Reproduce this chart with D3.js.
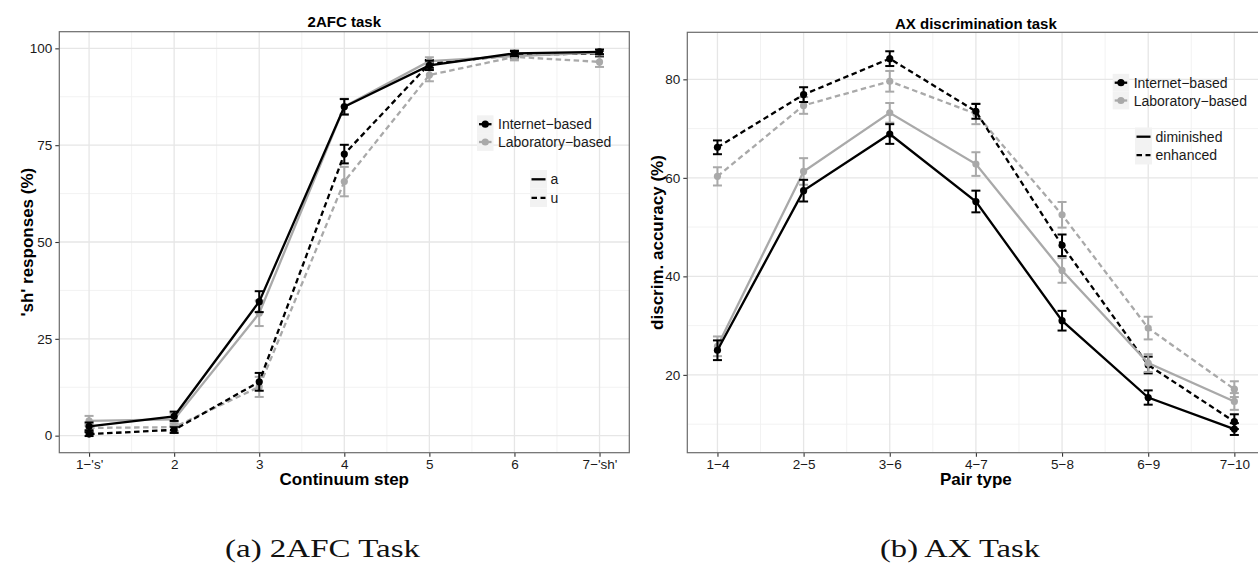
<!DOCTYPE html>
<html>
<head>
<meta charset="utf-8">
<script src="https://cdn.jsdelivr.net/npm/d3@7"></script>
<style>
  body { margin: 0; background: #fff; }
  text { font-family: "Liberation Sans", Arial, sans-serif; }
</style>
</head>
<body>
<script>
// ---- data: 2AFC task ----
const stepLabels = ["1−'s'", "2", "3", "4", "5", "6", "7−'sh'"];
const afcTicks = [0, 25, 50, 75, 100];
const afcInternetA    = [2.4, 5.0, 34.6, 84.9, 95.6, 98.7, 99.1];
const afcInternetAErr = [1.0, 1.2, 2.7, 2.0, 1.2, 0.7, 0.6];
const afcLabA         = [3.8, 4.2, 31.6, 85.0, 96.7, 98.0, 98.9];
const afcLabAErr      = [1.3, 1.5, 3.3, 2.0, 1.0, 0.8, 0.7];
const afcInternetU    = [0.4, 1.5, 13.9, 72.7, 96.0, 98.3, 98.7];
const afcInternetUErr = [0.5, 0.8, 2.3, 2.4, 1.0, 0.8, 0.7];
const afcLabU         = [2.0, 2.2, 12.6, 65.6, 93.1, 97.8, 96.5];
const afcLabUErr      = [0.9, 1.0, 2.6, 3.8, 1.6, 0.9, 1.3];

// ---- data: AX task ----
const pairLabels = ["1−4", "2−5", "3−6", "4−7", "5−8", "6−9", "7−10"];
const axTicks = [20, 40, 60, 80];
const axInternetDim    = [25.0, 57.4, 68.9, 55.2, 31.0, 15.4, 9.0];
const axInternetDimErr = [2.0, 2.2, 2.0, 2.2, 2.0, 1.45, 1.2];
const axLabDim         = [25.8, 61.3, 73.2, 62.8, 41.2, 22.4, 14.6];
const axLabDimErr      = [2.0, 2.7, 2.0, 2.4, 2.5, 1.8, 1.7];
const axInternetEnh    = [66.2, 76.9, 84.2, 73.5, 46.3, 22.0, 10.5];
const axInternetEnhErr = [1.4, 1.5, 1.5, 1.5, 2.2, 1.7, 1.5];
const axLabEnh         = [60.3, 74.7, 79.6, 73.0, 52.5, 29.5, 17.1];
const axLabEnhErr      = [1.85, 1.7, 2.1, 2.1, 2.6, 2.3, 1.6];

const groupNames = ["Internet−based", "Laboratory−based"];

const BLACK = "#000000";
const GREY = "#a9a9a9";
const DASH = "5.5,3.5";

const svg = d3.select("body").append("svg")
  .attr("width", 1258)
  .attr("height", 567);

function drawPanel(p) {
  const x = d3.scalePoint().domain(p.labels).range([p.left, p.right]).padding(0.35);
  const y = d3.scaleLinear().domain(p.yDomain).range([p.bottom, p.top]);
  const g = svg.append("g");

  // clip so the right panel is cut at the page edge like the original
  const step = x.step();

  // minor grid
  const minorY = p.ticks.slice(0, -1).map((t, i) => (t + p.ticks[i + 1]) / 2);
  minorY.unshift(p.ticks[0] - (p.ticks[1] - p.ticks[0]) / 2);
  g.selectAll(".minY").data(minorY.filter(v => y(v) < p.bottom && y(v) > p.top))
    .enter().append("line")
    .attr("x1", p.left).attr("x2", p.right)
    .attr("y1", d => y(d)).attr("y2", d => y(d))
    .attr("stroke", "#f0f0f0").attr("stroke-width", 0.9);
  g.selectAll(".minX").data(p.labels.slice(1))
    .enter().append("line")
    .attr("x1", d => x(d) - step / 2).attr("x2", d => x(d) - step / 2)
    .attr("y1", p.top).attr("y2", p.bottom)
    .attr("stroke", "#f0f0f0").attr("stroke-width", 0.9);

  // major grid
  g.selectAll(".majY").data(p.ticks)
    .enter().append("line")
    .attr("x1", p.left).attr("x2", p.right)
    .attr("y1", d => y(d)).attr("y2", d => y(d))
    .attr("stroke", "#e6e6e6").attr("stroke-width", 1.3);
  g.selectAll(".majX").data(p.labels)
    .enter().append("line")
    .attr("x1", d => x(d)).attr("x2", d => x(d))
    .attr("y1", p.top).attr("y2", p.bottom)
    .attr("stroke", "#e6e6e6").attr("stroke-width", 1.3);

  // axes
  const yAxis = g.append("g")
    .attr("transform", "translate(" + p.left + ",0)")
    .call(d3.axisLeft(y).tickValues(p.ticks).tickSize(4).tickPadding(3));
  const xAxis = g.append("g")
    .attr("transform", "translate(0," + p.bottom + ")")
    .call(d3.axisBottom(x).tickSize(4).tickPadding(3));
  [yAxis, xAxis].forEach(a => {
    a.select(".domain").remove();
    a.selectAll(".tick line").attr("stroke", "#333").attr("stroke-width", 1.1);
    a.selectAll(".tick text").attr("fill", "#1a1a1a")
      .style("font-size", "13.5px").style("font-family", "Liberation Sans, Arial, sans-serif");
  });

  // panel border
  g.append("rect")
    .attr("x", p.left).attr("y", p.top)
    .attr("width", p.right - p.left).attr("height", p.bottom - p.top)
    .attr("fill", "none").attr("stroke", "#6b6b6b").attr("stroke-width", 1.2);

  // series: error bars, lines, points
  const line = d3.line().x((d, i) => x(p.labels[i])).y(d => y(d));
  p.series.forEach(s => {
    const sg = g.append("g");
    s.values.forEach((v, i) => {
      const cx = x(p.labels[i]);
      const lo = y(v - s.err[i]), hi = y(v + s.err[i]);
      sg.append("line").attr("x1", cx).attr("x2", cx).attr("y1", lo).attr("y2", hi)
        .attr("stroke", s.color).attr("stroke-width", 2);
      [lo, hi].forEach(yy => {
        sg.append("line").attr("x1", cx - 4.5).attr("x2", cx + 4.5).attr("y1", yy).attr("y2", yy)
          .attr("stroke", s.color).attr("stroke-width", 2);
      });
    });
    sg.append("path").datum(s.values)
      .attr("d", line)
      .attr("fill", "none")
      .attr("stroke", s.color)
      .attr("stroke-width", 2.3)
      .attr("stroke-dasharray", s.dash);
    sg.selectAll("circle").data(s.values).enter().append("circle")
      .attr("cx", (d, i) => x(p.labels[i]))
      .attr("cy", d => y(d))
      .attr("r", 3.6)
      .attr("fill", s.color);
  });

  // titles
  const cx = (p.left + p.right) / 2;
  g.append("text").attr("x", cx).attr("y", p.titleY)
    .attr("text-anchor", "middle").style("font-weight", "bold").style("font-size", "15px")
    .text(p.title);
  g.append("text").attr("x", cx).attr("y", 485)
    .attr("text-anchor", "middle").style("font-weight", "bold").style("font-size", "17px")
    .text(p.xTitle);
  g.append("text")
    .attr("transform", "translate(" + p.yTitleX + "," + (p.top + p.bottom) / 2 + ") rotate(-90)")
    .attr("text-anchor", "middle").style("font-weight", "bold").style("font-size", "17px")
    .text(p.yTitle);

  // legend 1: groups (point + line)
  const lg = g.append("g");
  groupNames.forEach((name, i) => {
    const ky = p.leg1.y + i * 17.8;
    const col = i === 0 ? BLACK : GREY;
    lg.append("rect").attr("x", p.leg1.x).attr("y", ky - 8.9).attr("width", 16.5).attr("height", 17.8)
      .attr("fill", "#f2f2f2");
    lg.append("line").attr("x1", p.leg1.x + 2).attr("x2", p.leg1.x + 14.5).attr("y1", ky).attr("y2", ky)
      .attr("stroke", col).attr("stroke-width", 2.3);
    lg.append("circle").attr("cx", p.leg1.x + 8.25).attr("cy", ky).attr("r", 3.6).attr("fill", col);
    lg.append("text").attr("x", p.leg1.x + 21).attr("y", ky).attr("dy", "0.36em")
      .style("font-size", "14px").attr("fill", "#1a1a1a").text(name);
  });

  // legend 2: line types
  p.leg2.names.forEach((name, i) => {
    const ky = p.leg2.y + i * 18.5;
    lg.append("rect").attr("x", p.leg2.x).attr("y", ky - 9.25).attr("width", 17).attr("height", 18.5)
      .attr("fill", "#f2f2f2");
    lg.append("line").attr("x1", p.leg2.x + 1.5).attr("x2", p.leg2.x + 15.5).attr("y1", ky).attr("y2", ky)
      .attr("stroke", BLACK).attr("stroke-width", 2.3)
      .attr("stroke-dasharray", i === 1 ? DASH : null);
    lg.append("text").attr("x", p.leg2.x + 20.5).attr("y", ky).attr("dy", "0.36em")
      .style("font-size", "14px").attr("fill", "#1a1a1a").text(name);
  });
}

drawPanel({
  labels: stepLabels, ticks: afcTicks,
  left: 59.3, right: 629.3, top: 31.7, bottom: 452.7, yDomain: [-4.4, 104.3],
  title: "2AFC task", titleY: 27, xTitle: "Continuum step",
  yTitle: "'sh' responses (%)", yTitleX: 33,
  series: [
    { values: afcLabU, err: afcLabUErr, color: GREY, dash: DASH },
    { values: afcInternetU, err: afcInternetUErr, color: BLACK, dash: DASH },
    { values: afcLabA, err: afcLabAErr, color: GREY, dash: null },
    { values: afcInternetA, err: afcInternetAErr, color: BLACK, dash: null }
  ],
  leg1: { x: 477, y: 124.2 },
  leg2: { x: 530, y: 179.3, names: ["a", "u"] }
});

drawPanel({
  labels: pairLabels, ticks: axTicks,
  left: 687.3, right: 1264.5, top: 32.3, bottom: 452.7, yDomain: [4.2, 89.55],
  title: "AX discrimination task", titleY: 29, xTitle: "Pair type",
  yTitle: "discrim. accuracy (%)", yTitleX: 663,
  series: [
    { values: axLabEnh, err: axLabEnhErr, color: GREY, dash: DASH },
    { values: axInternetEnh, err: axInternetEnhErr, color: BLACK, dash: DASH },
    { values: axLabDim, err: axLabDimErr, color: GREY, dash: null },
    { values: axInternetDim, err: axInternetDimErr, color: BLACK, dash: null }
  ],
  leg1: { x: 1112.7, y: 82.7 },
  leg2: { x: 1135, y: 136.7, names: ["diminished", "enhanced"] }
});

// sub-figure captions
const captions = [
  { text: "(a) 2AFC Task", x: 322.5, w: 195 },
  { text: "(b) AX Task", x: 960, w: 160 }
];
svg.selectAll(".caption").data(captions).enter().append("text")
  .attr("x", d => d.x).attr("y", 557)
  .attr("text-anchor", "middle")
  .attr("textLength", d => d.w)
  .attr("lengthAdjust", "spacingAndGlyphs")
  .style("font-family", "Liberation Serif, Times New Roman, serif")
  .style("font-size", "25px")
  .attr("fill", "#111")
  .text(d => d.text);
</script>
</body>
</html>
